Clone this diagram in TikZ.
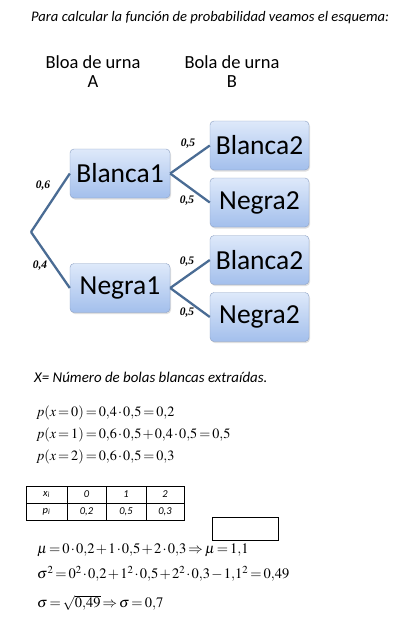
\documentclass[tikz,border=0pt]{standalone}
\usepackage{mathptmx}
\usepackage{fontspec}
\setmainfont{Liberation Serif}
\newfontfamily\calibri{Carlito}
\usepackage{xcolor}
\definecolor{boxtop}{RGB}{222,233,250}
\definecolor{boxbot}{RGB}{163,191,236}
\definecolor{boxedge}{RGB}{140,160,195}
\definecolor{branchcol}{RGB}{74,108,148}
\usetikzlibrary{positioning,shadows}
\thickmuskip=2.5mu
\medmuskip=1.5mu

\begin{document}
\begin{tikzpicture}[x=1pt,y=-1pt,
  treebox/.style={draw=boxedge,rounded corners=4pt,top color=boxtop,bottom color=boxbot,
    minimum width=99pt,minimum height=49pt,inner sep=0pt,font=\calibri\fontsize{27.5}{30}\selectfont,
    drop shadow={opacity=0.25,shadow xshift=1pt,shadow yshift=-1.5pt}},
  branch/.style={draw=branchcol,line width=2.3pt},
  problabel/.style={font=\bfseries\itshape\fontsize{11.5}{12}\selectfont},
  urnlabel/.style={font=\calibri\fontsize{18.5}{19}\selectfont,align=center},
  mathline/.style={anchor=west,inner sep=0pt},
  cell/.style={font=\calibri\itshape\fontsize{10.5}{12}\selectfont,inner sep=0pt}]
  \useasboundingbox[fill=white] (0,0) rectangle (404,630);
  % Heading
  \node[anchor=west,inner sep=0pt,font=\calibri\itshape\fontsize{14.6}{16}\selectfont] (title) at (31,18)
    {Para calcular la función de probabilidad veamos el esquema:};
  \node[urnlabel] (urnA) at (93,72) {Bloa de urna\\A};
  \node[urnlabel] (urnB) at (232,72) {Bola de urna\\B};
  % Tree
  \coordinate (root) at (31,232);
  \node[treebox,minimum width=100pt] (blanca1) at (120,173.5) {Blanca1};
  \node[treebox,minimum width=100pt] (negra1) at (120,288) {Negra1};
  \node[treebox] (blanca2a) at (259.5,145.5) {Blanca2};
  \node[treebox] (negra2a) at (259.5,202.5) {Negra2};
  \node[treebox] (blanca2b) at (259.5,260) {Blanca2};
  \node[treebox] (negra2b) at (259.5,317) {Negra2};
  \draw[branch] (root) -- (blanca1.west);
  \draw[branch] (root) -- (negra1.west);
  \draw[branch] (blanca1.east) -- (blanca2a.west);
  \draw[branch] (blanca1.east) -- (negra2a.west);
  \draw[branch] (negra1.east) -- (blanca2b.west);
  \draw[branch] (negra1.east) -- (negra2b.west);
  \node[problabel] (p6) at (43,186) {0,6};
  \node[problabel] (p4) at (40,266) {0,4};
  \node[problabel] (p5a) at (188,144) {0,5};
  \node[problabel] (p5b) at (187,201) {0,5};
  \node[problabel] (p5c) at (187,262) {0,5};
  \node[problabel] (p5d) at (187,313) {0,5};
  % Random variable
  \node[anchor=west,inner sep=0pt,font=\calibri\itshape\fontsize{14.9}{16}\selectfont] (xdef) at (34,377)
    {X= Número de bolas blancas extraídas.};
  \node[mathline,font=\fontsize{14.2}{17}\selectfont] (px0) at (36,413) {$p(x=0)=0{,}4\cdot0{,}5=0{,}2$};
  \node[mathline,font=\fontsize{14.2}{17}\selectfont] (px1) at (36,435) {$p(x=1)=0{,}6\cdot0{,}5+0{,}4\cdot0{,}5=0{,}5$};
  \node[mathline,font=\fontsize{14.2}{17}\selectfont] (px2) at (36,457) {$p(x=2)=0{,}6\cdot0{,}5=0{,}3$};
  % Table
  \draw[line width=0.9pt] (26,486) rectangle (184,520);
  \draw[line width=0.9pt] (26,503) -- (184,503);
  \foreach \xc in {67,106,146} \draw[line width=0.9pt] (\xc,486) -- (\xc,520);
  \node[cell] (xi) at (46.5,494.5) {x\textsubscript{i}};
  \node[cell] (x0) at (86.5,494.5) {0};
  \node[cell] (x1) at (126,494.5) {1};
  \node[cell] (x2) at (165,494.5) {2};
  \node[cell] (pi) at (46.5,511.5) {p\textsubscript{i}};
  \node[cell] (p0) at (86.5,511.5) {0,2};
  \node[cell] (p1) at (126,511.5) {0,5};
  \node[cell] (p2) at (165,511.5) {0,3};
  % Mean and deviation
  \node[draw,line width=0.8pt,minimum width=66pt,minimum height=23pt,inner sep=0pt] (emptybox) at (245,528.5) {};
  \node[mathline,font=\fontsize{14.5}{18}\selectfont] (mean) at (37,550) {$\mu=0\cdot0{,}2+1\cdot0{,}5+2\cdot0{,}3\Rightarrow\mu=1{,}1$};
  \node[mathline,font=\fontsize{14.5}{18}\selectfont] (var) at (37,574) {$\sigma^2=0^2\cdot0{,}2+1^2\cdot0{,}5+2^2\cdot0{,}3-1{,}1^2=0{,}49$};
  \node[mathline,font=\fontsize{14.5}{18}\selectfont] (sd) at (37,603) {$\sigma=\sqrt{0{,}49}\Rightarrow\sigma=0{,}7$};
\end{tikzpicture}
\end{document}
